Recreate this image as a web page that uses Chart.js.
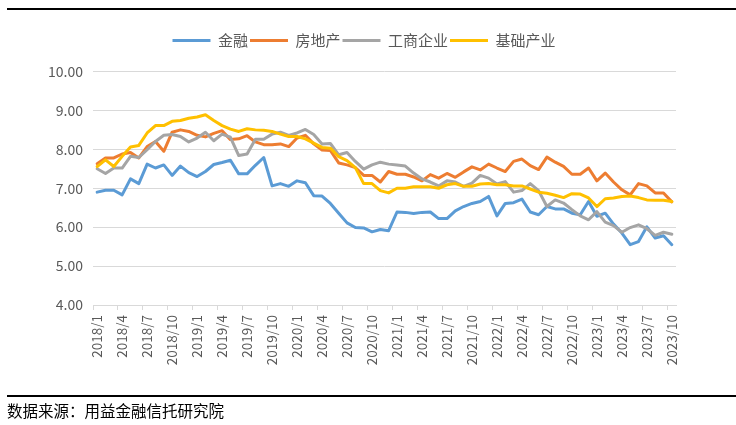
<!DOCTYPE html>
<html>
<head>
<meta charset="utf-8">
<script src="https://cdn.jsdelivr.net/npm/chart.js@4/dist/chart.umd.min.js"></script>
<style>
  body { margin: 0; background: #fff; }
  #wrap { position: relative; width: 736px; height: 425px; overflow: hidden; }
  #wrap canvas { position: absolute; left: 0; top: 0; }
  .rule { position: absolute; left: 7px; right: 0; height: 2.5px; background: #000; }
  #source { position: absolute; left: 7px; top: 400px; font: 15.5px "Noto Sans CJK SC", sans-serif; color: #000; line-height: 20px; }
</style>
</head>
<body>
<div id="wrap">
  <canvas id="trustChart" width="736" height="425"></canvas>
  <div class="rule" style="top:7.5px"></div>
  <div class="rule" style="top:394.5px"></div>
  <div id="source">数据来源：用益金融信托研究院</div>
</div>
<script>
// 月份 2018/1 - 2023/10
const months = [];
for (let y = 2018; y <= 2023; y++) {
    for (let m = 1; m <= 12; m++) {
        if (y === 2023 && m > 10) break;
        months.push(y + '/' + m);
    }
}

// 各领域收益率 (%)
const jinrong = [6.90, 6.95, 6.95, 6.83, 7.24, 7.12, 7.62, 7.52, 7.60, 7.33, 7.57, 7.40,
    7.30, 7.43, 7.61, 7.66, 7.72, 7.37, 7.37, 7.59, 7.79, 7.06, 7.12, 7.05,
    7.19, 7.14, 6.81, 6.80, 6.61, 6.36, 6.11, 5.99, 5.98, 5.88, 5.94, 5.91,
    6.39, 6.38, 6.35, 6.38, 6.39, 6.22, 6.22, 6.42, 6.53, 6.61, 6.66, 6.79,
    6.29, 6.61, 6.63, 6.72, 6.39, 6.32, 6.53, 6.47, 6.47, 6.36, 6.32, 6.66,
    6.28, 6.36, 6.08, 5.85, 5.55, 5.63, 6.01, 5.72, 5.78, 5.55];
const fangdichan = [7.63, 7.78, 7.78, 7.88, 7.92, 7.78, 8.07, 8.20, 7.95, 8.44, 8.50, 8.46,
    8.36, 8.32, 8.41, 8.48, 8.25, 8.27, 8.35, 8.19, 8.12, 8.12, 8.14, 8.07,
    8.29, 8.36, 8.14, 7.98, 7.97, 7.65, 7.60, 7.53, 7.33, 7.33, 7.16, 7.43,
    7.36, 7.36, 7.29, 7.19, 7.35, 7.26, 7.38, 7.28, 7.42, 7.55, 7.47, 7.62,
    7.52, 7.43, 7.69, 7.75, 7.58, 7.48, 7.80, 7.67, 7.56, 7.36, 7.36, 7.52,
    7.19, 7.39, 7.16, 6.96, 6.83, 7.12, 7.06, 6.88, 6.88, 6.65];
const gongshang = [7.50, 7.38, 7.52, 7.52, 7.82, 7.79, 7.99, 8.20, 8.36, 8.38, 8.33, 8.19,
    8.29, 8.44, 8.22, 8.39, 8.31, 7.84, 7.88, 8.26, 8.26, 8.39, 8.44, 8.36,
    8.42, 8.51, 8.38, 8.14, 8.15, 7.86, 7.92, 7.69, 7.49, 7.60, 7.67, 7.62,
    7.60, 7.57, 7.39, 7.24, 7.16, 7.06, 7.19, 7.16, 7.05, 7.13, 7.33, 7.26,
    7.11, 7.17, 6.90, 6.94, 7.12, 6.94, 6.53, 6.70, 6.62, 6.45, 6.29, 6.19,
    6.40, 6.13, 6.04, 5.87, 5.99, 6.06, 5.96, 5.79, 5.87, 5.82];
const jichu = [7.56, 7.73, 7.56, 7.82, 8.06, 8.10, 8.42, 8.61, 8.61, 8.72, 8.74, 8.80,
    8.83, 8.89, 8.74, 8.61, 8.52, 8.46, 8.53, 8.50, 8.49, 8.46, 8.39, 8.33,
    8.33, 8.27, 8.16, 8.05, 8.03, 7.81, 7.71, 7.53, 7.12, 7.12, 6.94, 6.88,
    7.00, 7.00, 7.04, 7.04, 7.04, 7.00, 7.09, 7.12, 7.05, 7.05, 7.11, 7.12,
    7.09, 7.09, 7.06, 7.06, 6.98, 6.90, 6.87, 6.82, 6.76, 6.86, 6.85, 6.75,
    6.53, 6.73, 6.75, 6.79, 6.80, 6.76, 6.70, 6.69, 6.69, 6.66];

const seriesNames = ['金融', '房地产', '工商企业', '基础产业'];
const seriesColors = ['#5B9BD5', '#ED7D31', '#A5A5A5', '#FFC000'];
const seriesData = [jinrong, fangdichan, gongshang, jichu];

const yTicks = { min: 4, max: 10, step: 1 };

Chart.defaults.font.family = '"Noto Sans CJK SC", "Noto Sans", sans-serif';
Chart.defaults.color = '#595959';

// 图例和绘图区之间留空, 图例稍微右移
const legendTweak = {
    id: 'legendTweak',
    beforeInit(chart) {
        const origFit = chart.legend.fit;
        chart.legend.fit = function () {
            origFit.bind(chart.legend)();
            this.height += 13.5;
        };
    },
    afterLayout(chart) {
        chart.legend.left += 26;
        chart.legend.right += 26;
    }
};

const ctx = document.getElementById('trustChart');

const chart = new Chart(ctx, {
    type: 'line',
    data: {
        labels: months,
        datasets: seriesData.map((d, i) => ({
            label: seriesNames[i],
            data: d,
            borderColor: seriesColors[i],
            backgroundColor: seriesColors[i],
            borderWidth: 3,
            pointRadius: 0,
            pointHoverRadius: 0,
            tension: 0,
            borderJoinStyle: 'round',
            borderCapStyle: 'round',
            pointStyle: 'line',
            order: seriesData.length - i
        }))
    },
    options: {
        responsive: false,
        animation: false,
        layout: { padding: { top: 31, left: 0, right: 60, bottom: 60 } },
        plugins: {
            tooltip: { enabled: false },
            legend: {
                position: 'top',
                labels: {
                    usePointStyle: true,
                    pointStyleWidth: 38,
                    padding: 2,
                    color: '#595959',
                    font: { size: 15 },
                    sort: (a, b) => a.datasetIndex - b.datasetIndex
                }
            }
        },
        scales: {
            x: {
                offset: true,
                grid: {
                    offset: true,
                    drawOnChartArea: false,
                    drawTicks: true,
                    tickLength: 5,
                    color: c => (c.index % 3 === 0 ? '#D9D9D9' : 'rgba(0,0,0,0)')
                },
                border: { display: true, color: '#D9D9D9', width: 1 },
                ticks: {
                    autoSkip: false,
                    maxRotation: 90,
                    minRotation: 90,
                    padding: 5,
                    color: '#595959',
                    font: { size: 13.5 },
                    callback: (val, idx) => (idx % 3 === 0 ? months[idx] : '')
                },
                afterFit: s => { s.height = 60; }
            },
            y: {
                min: yTicks.min,
                max: yTicks.max,
                grid: { color: '#D9D9D9', lineWidth: 1, drawTicks: false },
                border: { display: false },
                ticks: {
                    stepSize: yTicks.step,
                    padding: 10,
                    color: '#595959',
                    font: { size: 14 },
                    callback: v => v.toFixed(2)
                },
                afterFit: s => { s.width = 93; }
            }
        }
    },
    plugins: [legendTweak]
});
</script>
</body>
</html>
